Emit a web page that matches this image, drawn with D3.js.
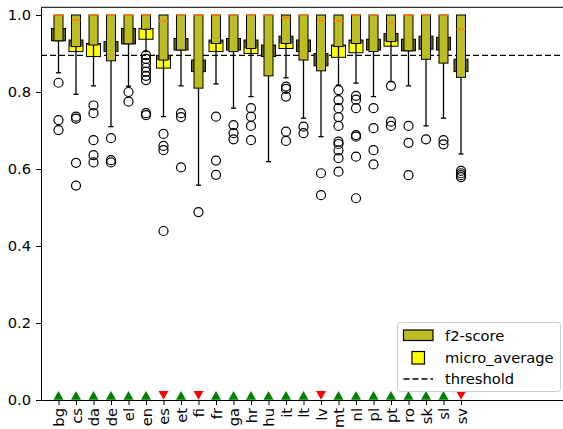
<!DOCTYPE html>
<html>
<head>
<meta charset="utf-8">
<script src="https://cdn.jsdelivr.net/npm/d3@7"></script>
<style>
  body { margin: 0; background: #fff; }
  svg { display: block; font-family: "DejaVu Sans", sans-serif; }
</style>
</head>
<body>
<svg id="chart" width="563" height="429"></svg>
<script>
const languages = ["bg","cs","da","de","el","en","es","et","fi","fr","ga","hr","hu","it","lt","lv","mt","nl","pl","pt","ro","sk","sl","sv"];

// f2-score box statistics
const f2Q1 = [0.933,0.918,0.922,0.881,0.925,0.963,0.883,0.909,0.810,0.926,0.905,0.913,0.842,0.926,0.883,0.855,0.918,0.926,0.905,0.931,0.907,0.885,0.875,0.838];
const f2Q3 = [1,1,1,1,1,1,1,1,1,1,1,1,1,1,1,1,1,1,1,1,1,1,1,1];
const f2Median = [1.0,0.987,1.0,1.0,1.0,1.0,0.984,1.0,1.0,1.0,1.0,1.0,1.0,0.993,1.0,0.985,0.985,1.0,1.0,0.980,1.0,1.0,1.0,0.963];
const f2WhiskerLow = [0.850,0.794,0.816,0.710,0.815,0.905,0.736,0.816,0.558,0.821,0.758,0.788,0.619,0.837,0.732,0.684,0.818,0.823,0.788,0.827,0.816,0.712,0.732,0.639];
const f2Outliers = [
  [0.824,0.727,0.701],
  [0.736,0.731,0.616,0.557],
  [0.765,0.745,0.675,0.636,0.617],
  [0.680,0.623,0.617],
  [0.800,0.775],
  [0.896,0.886,0.875,0.863,0.853,0.842,0.831,0.745,0.740],
  [0.691,0.660,0.649,0.439],
  [0.745,0.735,0.604],
  [0.488],
  [0.736,0.622,0.585],
  [0.714,0.693,0.677],
  [0.758,0.736,0.712,0.675],
  [],
  [0.814,0.808,0.788,0.697,0.673],
  [0.710,0.693],
  [0.589,0.532],
  [0.805,0.779,0.758,0.735,0.712,0.671,0.665,0.648,0.628,0.593],
  [0.790,0.780,0.758,0.688,0.684,0.632,0.524],
  [0.758,0.706,0.649,0.612],
  [0.816,0.723,0.712],
  [0.712,0.668,0.584],
  [0.677],
  [0.675,0.664],
  [0.595,0.589,0.584,0.579]
];

// micro_average box statistics
const microQ1 = [0.933,0.905,0.892,0.905,0.925,0.937,0.862,0.909,0.853,0.905,0.909,0.900,0.892,0.913,0.905,0.868,0.890,0.902,0.909,0.919,0.907,0.911,0.909,0.853];
const microQ3 = [0.965,0.935,0.926,0.931,0.965,0.965,0.895,0.939,0.883,0.935,0.939,0.935,0.922,0.945,0.935,0.900,0.922,0.935,0.937,0.952,0.937,0.945,0.942,0.885];

const threshold = 0.895;
// 1 = passes (green up), 0 = fails (red down)
const status = [1,1,1,1,1,1,0,1,0,1,1,1,1,1,1,0,1,1,1,1,1,1,1,0];

const yTicks = [0,0.2,0.4,0.6,0.8,1.0];

const svg = d3.select("#chart");
const left = 41, right = 566, bottom = 400;
const x = d3.scaleLinear().domain([0, 30]).range([left, right]);
const y = d3.scaleLinear().domain([0, 1.02]).range([bottom, bottom - 385 * 1.02]);

const OLIVE = "#bcbd22", DARK = "#676814", YELLOW = "#ffff00", ORANGE = "#ff7f0e";

// threshold line
svg.append("line")
  .attr("x1", x(0)).attr("x2", x(30))
  .attr("y1", y(threshold)).attr("y2", y(threshold))
  .attr("stroke", "#000").attr("stroke-width", 1.3).attr("stroke-dasharray", "6,3");

const g = svg.append("g");
languages.forEach((lang, i) => {
  const cx = x(i + 1);
  const wW = 7, nW = 4.5;
  g.append("rect").attr("x", cx - wW).attr("width", 2 * wW)
    .attr("y", y(microQ3[i])).attr("height", y(microQ1[i]) - y(microQ3[i]))
    .attr("fill", YELLOW);
  const lo = Math.max(microQ1[i], f2Q1[i]), hi = Math.min(microQ3[i], f2Q3[i]);
  if (hi > lo) {
    g.append("rect").attr("x", cx - wW).attr("width", 2 * wW)
      .attr("y", y(hi)).attr("height", y(lo) - y(hi)).attr("fill", DARK);
  }
  g.append("rect").attr("x", cx - wW).attr("width", 2 * wW)
    .attr("y", y(microQ3[i])).attr("height", y(microQ1[i]) - y(microQ3[i]))
    .attr("fill", "none").attr("stroke", "#000").attr("stroke-width", 1);
  g.append("line").attr("x1", cx).attr("x2", cx)
    .attr("y1", y(f2Q1[i])).attr("y2", y(f2WhiskerLow[i]))
    .attr("stroke", "#000").attr("stroke-width", 1.3);
  g.append("line").attr("x1", cx - 2.6).attr("x2", cx + 2.6)
    .attr("y1", y(f2WhiskerLow[i])).attr("y2", y(f2WhiskerLow[i]))
    .attr("stroke", "#000").attr("stroke-width", 1.3);
  g.append("rect").attr("x", cx - nW).attr("width", 2 * nW)
    .attr("y", y(f2Q3[i])).attr("height", y(f2Q1[i]) - y(f2Q3[i]))
    .attr("fill", OLIVE).attr("stroke", "#000").attr("stroke-width", 1);
  g.append("line").attr("x1", cx - nW).attr("x2", cx + nW)
    .attr("y1", y(f2Median[i])).attr("y2", y(f2Median[i]))
    .attr("stroke", ORANGE).attr("stroke-width", 1.6);
  f2Outliers[i].forEach(v => {
    g.append("circle").attr("cx", cx).attr("cy", y(v)).attr("r", 4.5)
      .attr("fill", "none").attr("stroke", "#000").attr("stroke-width", 1.2);
  });
});

// status markers
languages.forEach((lang, i) => {
  const cx = x(i + 1), cy = y(0) - 4.6;
  const pts = status[i]
    ? [[cx, cy - 4.4], [cx - 5, cy + 4.4], [cx + 5, cy + 4.4]]
    : [[cx - 5, cy - 4.4], [cx + 5, cy - 4.4], [cx, cy + 4.4]];
  svg.append("path").attr("d", d3.line()(pts) + "Z")
    .attr("fill", status[i] ? "#008000" : "#ff0000");
});

// axes
const yAxis = svg.append("g").attr("transform", `translate(${left},0)`)
  .call(d3.axisLeft(y).tickValues(yTicks).tickFormat(d3.format(".1f")).tickSize(5).tickPadding(5).tickSizeOuter(0));
yAxis.selectAll("text").attr("font-size", "14.7px").attr("fill", "#000").attr("font-family", "DejaVu Sans");
yAxis.selectAll("line,path").attr("stroke", "#000");

const xAxis = svg.append("g").attr("transform", `translate(0,${bottom})`)
  .call(d3.axisBottom(x).tickValues(languages.map((d, i) => i + 1)).tickFormat(d => languages[d - 1]).tickSize(5).tickSizeOuter(0));
xAxis.selectAll("text")
  .attr("font-size", "14.7px").attr("fill", "#000").attr("font-family", "DejaVu Sans")
  .attr("transform", "rotate(-90)")
  .attr("text-anchor", "end")
  .attr("x", -8).attr("y", 0).attr("dy", "0.36em");
xAxis.selectAll("line,path").attr("stroke", "#000");

// top spine
svg.append("line").attr("x1", left).attr("x2", right).attr("y1", y(1.02)).attr("y2", y(1.02))
  .attr("stroke", "#000").attr("stroke-width", 1);

// legend
const lg = svg.append("g");
lg.append("rect").attr("x", 397.5).attr("y", 322.5).attr("width", 163).attr("height", 69).attr("rx", 3)
  .attr("fill", "#fff").attr("fill-opacity", 0.8).attr("stroke", "#cccccc");
lg.append("rect").attr("x", 403.5).attr("y", 330).attr("width", 29.5).attr("height", 10.5)
  .attr("fill", OLIVE).attr("stroke", "#000").attr("stroke-width", 1.2);
lg.append("rect").attr("x", 412).attr("y", 351.5).attr("width", 12.5).attr("height", 12.5)
  .attr("fill", YELLOW).attr("stroke", "#000").attr("stroke-width", 1.2);
lg.append("line").attr("x1", 403.5).attr("x2", 433).attr("y1", 379).attr("y2", 379)
  .attr("stroke", "#000").attr("stroke-width", 1.3).attr("stroke-dasharray", "6,3");
const labels = ["f2-score", "micro_average", "threshold"];
const ly = [335.5, 357.5, 379];
labels.forEach((t, k) => {
  lg.append("text").attr("x", 445).attr("y", ly[k]).attr("dy", "0.36em")
    .attr("font-size", "14.7px").attr("fill", "#000").text(t);
});
</script>
</body>
</html>
